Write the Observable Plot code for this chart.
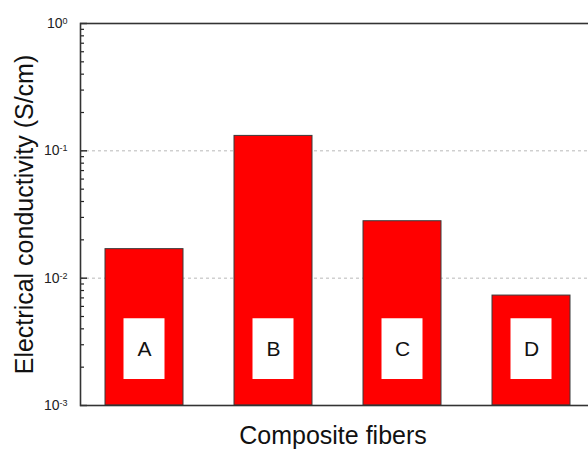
<!DOCTYPE html>
<html>
<head>
<meta charset="utf-8">
<script src="https://cdn.jsdelivr.net/npm/d3@7"></script>
<script src="https://cdn.jsdelivr.net/npm/@observablehq/plot@0.6"></script>
<style>
  html, body { margin: 0; padding: 0; background: #fff; overflow: hidden; }
  #chart { width: 588px; height: 453px; overflow: hidden; }
  #chart svg { max-width: none !important; }
</style>
</head>
<body>
<div id="chart"></div>
<script>
// ---- data ----
const categories = ["A", "B", "C", "D"];
const conductivity = [0.0169, 0.131, 0.028, 0.0073]; // S/cm
const baseline = 0.001;
const labelBoxLow = 0.0016;
const labelBoxHigh = 0.0048;
const labelY = 0.00277;
const gridValues = [0.1, 0.01];
const majorTicks = [0.001, 0.01, 0.1, 1];
const minorTicks = [
  0.002, 0.003, 0.004, 0.005, 0.006, 0.007, 0.008, 0.009,
  0.02, 0.03, 0.04, 0.05, 0.06, 0.07, 0.08, 0.09,
  0.2, 0.3, 0.4, 0.5, 0.6, 0.7, 0.8, 0.9
];
const xTitle = "Composite fibers";
const yTitle = "Electrical conductivity (S/cm)";

const table = categories.map((c, i) => ({
  cat: c, value: conductivity[i], base: baseline,
  boxLow: labelBoxLow, boxHigh: labelBoxHigh, labelY: labelY
}));

const font = "'Liberation Sans', Arial, Helvetica, sans-serif";

const chart = Plot.plot({
  width: 600,
  height: 453,
  marginLeft: 80,
  marginRight: 5,
  marginTop: 23,
  marginBottom: 48,
  style: { fontFamily: font, background: "#fff" },
  x: { domain: categories, paddingInner: 0.392, paddingOuter: 0.177, axis: null },
  y: { type: "log", domain: [0.001, 1], axis: null },
  marks: [
    Plot.ruleY(gridValues, { stroke: "#b8b8b8", strokeDasharray: "3,3", strokeWidth: 1 }),
    Plot.barY(table, { x: "cat", y1: "base", y2: "value", fill: "#ff0000", stroke: "#3a3a3a", strokeWidth: 1 }),
    Plot.barY(table, { x: "cat", y1: "boxLow", y2: "boxHigh", fill: "#ffffff", insetLeft: 18.5, insetRight: 18.5 }),
    Plot.text(table, { x: "cat", y: "labelY", text: "cat", fontSize: 21, fill: "#111" }),
    // inward ticks on the left axis (outward ticks shifted right by their length)
    Plot.axisY({ ticks: minorTicks, tickSize: 4, dx: 4, tickFormat: () => "", stroke: "#222", strokeWidth: 1.2, label: null }),
    Plot.axisY({ ticks: majorTicks, tickSize: 7, dx: 7, tickFormat: () => "", stroke: "#222", strokeWidth: 1.4, label: null }),
    // tick labels
    Plot.axisY({ ticks: majorTicks, tickSize: 0, tickPadding: 13, fontSize: 14, fill: "#222",
                 tickFormat: d => String(Math.round(Math.log10(d))), label: null }),
    Plot.frame({ stroke: "#333", strokeWidth: 1.6 }),
    Plot.text([xTitle], { frameAnchor: "bottom", dx: -5, dy: 38.5, fontSize: 25, fill: "#111" }),
    Plot.text([yTitle], { frameAnchor: "left", textAnchor: "middle", dx: -56, rotate: -90, fontSize: 25, fill: "#111" })
  ]
});
chart.style.maxWidth = "none";

document.getElementById("chart").appendChild(chart);

// turn exponent labels into 10 with superscript
d3.select(chart).selectAll('g[aria-label="y-axis tick label"] text').each(function () {
  const exp = this.textContent;
  if (exp === "") return;
  const t = d3.select(this);
  t.text("");
  t.append("tspan").text("10");
  t.append("tspan").attr("dy", "-0.45em").attr("font-size", "9").text(exp);
});
</script>
</body>
</html>
